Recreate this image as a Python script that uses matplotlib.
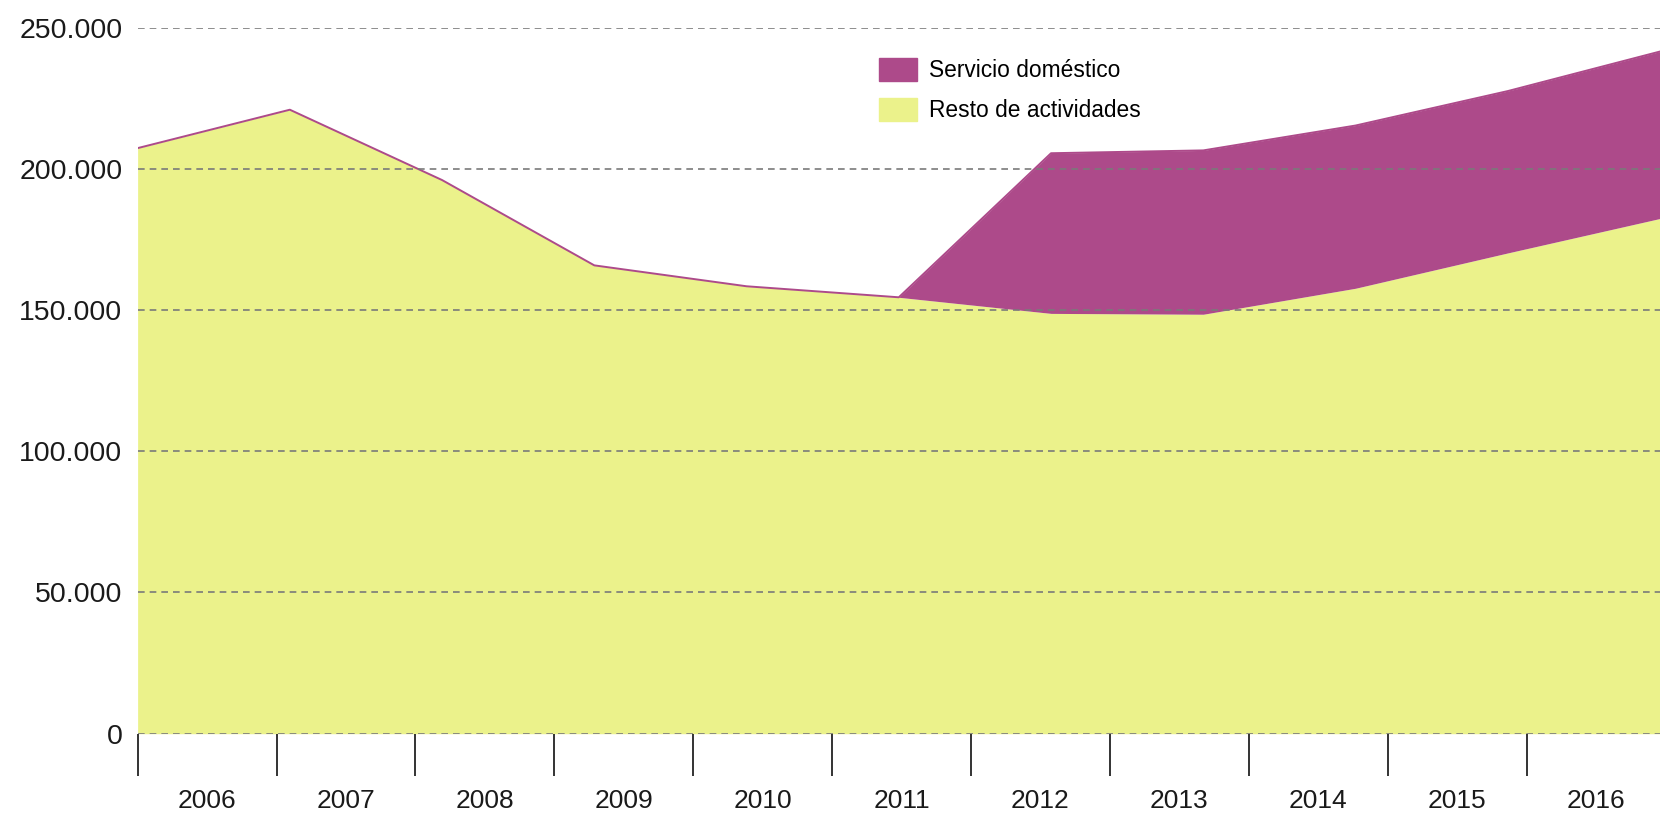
import matplotlib
matplotlib.use('Agg')
import matplotlib.pyplot as plt
import matplotlib.patches as mpatches
from matplotlib.ticker import FuncFormatter, FixedLocator
import numpy as np

plt.rcParams['font.family'] = ['Liberation Sans', 'DejaVu Sans']

years = ['2006', '2007', '2008', '2009', '2010', '2011', '2012', '2013', '2014', '2015', '2016']
resto = [207300, 220900, 196000, 165800, 158400, 154500, 148800, 148500, 157700, 170200, 182400]
domestico = [0, 0, 0, 0, 0, 0, 56700, 58000, 57600, 57300, 59100]
yticks = [0, 50000, 100000, 150000, 200000, 250000]

YELLOW = '#ebf28b'
PURPLE = '#ad4a8a'

x = np.arange(len(years))
resto = np.array(resto)
total = resto + np.array(domestico)

fig = plt.figure(figsize=(16.6, 8.14), dpi=100)
ax = fig.add_axes([0.0829, 0.0986, 0.9171, 0.8676])

ax.fill_between(x, 0, resto, color=YELLOW, linewidth=0, zorder=1)
ax.fill_between(x, resto, total, color=PURPLE, linewidth=0, zorder=1.2)
ax.plot(x, total, color=PURPLE, linewidth=1.4, zorder=1.5)

ax.set_xlim(0, 10)
ax.set_ylim(0, 250000)

# y axis
ax.set_yticks(yticks)
ax.yaxis.set_major_formatter(FuncFormatter(lambda v, p: f'{int(v):,}'.replace(',', '.')))
ax.tick_params(axis='y', length=0, pad=11, labelsize=20.5, labelcolor='#1a1a1a')
ax.yaxis.grid(True, linestyle=(0, (4, 3)), color='#7a7a7a', linewidth=1.2, zorder=3)
ax.set_axisbelow(False)

# x axis: category bins narrower than data spacing
w = 10 / 10.96
edges = np.arange(len(years) + 1) * w
centers = (np.arange(len(years)) + 0.5) * w
ax.xaxis.set_major_locator(FixedLocator(centers))
ax.set_xticklabels(years)
ax.xaxis.set_minor_locator(FixedLocator(edges))
ax.tick_params(axis='x', which='major', length=0, pad=40, labelsize=19, labelcolor='#1a1a1a')
ax.tick_params(axis='x', which='minor', length=30, width=1.4, color='#333333')

for s in ax.spines.values():
    s.set_visible(False)

handles = [mpatches.Patch(color=PURPLE, label='Servicio doméstico'),
           mpatches.Patch(color=YELLOW, label='Resto de actividades')]
fig.legend(handles=handles, loc='upper left', bbox_to_anchor=(0.5295, 0.9287),
           frameon=False, fontsize=16.4, handlelength=1.65, handleheight=1.15,
           handletextpad=0.55, labelspacing=0.72, borderpad=0, borderaxespad=0)

fig.savefig('out.png', dpi=100)
